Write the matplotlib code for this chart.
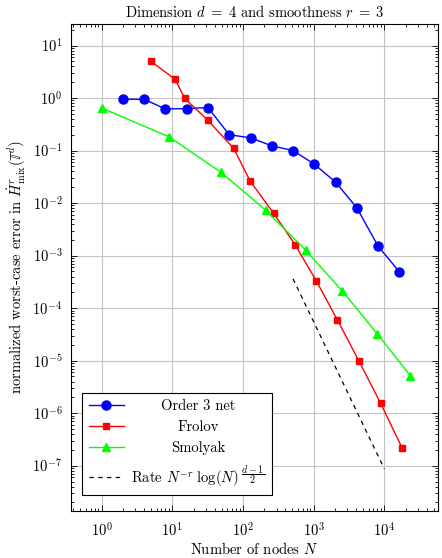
import matplotlib
matplotlib.use("Agg")
import matplotlib.pyplot as plt
import numpy as np

plt.rcParams['font.family'] = ['cmr10', 'DejaVu Serif']
plt.rcParams['mathtext.fontset'] = 'cm'
plt.rcParams['axes.formatter.use_mathtext'] = True
plt.rcParams['font.size'] = 10

# Data
net_N = [2, 4, 8, 16, 32, 64, 128, 256, 512, 1024, 2048, 4096, 8192, 16384]
net_err = [0.95, 0.95, 0.62, 0.63, 0.66, 0.20, 0.175, 0.123, 0.10, 0.055, 0.025, 0.0081, 0.0015, 4.9e-4]

frolov_N = [5, 11, 15, 32, 74, 127, 273, 546, 1095, 2163, 4385, 8890, 17800]
frolov_err = [5.0, 2.27, 0.99, 0.376, 0.11, 0.026, 0.00636, 0.00162, 3.27e-4, 6.0e-5, 9.8e-6, 1.53e-6, 2.2e-7]

smolyak_N = [1, 9, 49, 209, 769, 2561, 7937, 23297]
smolyak_err = [0.645, 0.183, 0.0385, 0.00736, 0.00127, 2.1e-4, 3.25e-5, 5.2e-6]

rate_N = [512, 10000]
rate_err = [3.6e-4, 8.7e-8]

labels = ["Order 3 net", "Frolov", "Smolyak", r"Rate $N^{-r}\;\log(N)\,^{\dfrac{d-1}{2}}$"]

fig = plt.figure(figsize=(4.42, 5.58), dpi=100)
ax = fig.add_axes([70.7/442, 1-510.7/558, (438-70.7)/442, (510.7-24)/558])

ax.plot(net_N, net_err, color=(0, 0, 1), lw=1.0, marker='o', ms=6.5, label=labels[0])
ax.plot(frolov_N, frolov_err, color=(1, 0, 0), lw=1.0, marker='s', ms=5, label=labels[1])
ax.plot(smolyak_N, smolyak_err, color=(0, 1, 0), lw=1.0, marker='^', ms=5.5, label=labels[2])
ax.plot(rate_N, rate_err, color='black', lw=0.9, ls=(0, (3.5, 3.5)), label=labels[3])

ax.set_xscale('log')
ax.set_yscale('log')
ax.set_xlim(0.366, 57500)
ax.set_ylim(1.39e-8, 25.7)

ax.set_xticks([1, 10, 100, 1000, 10000])
ax.set_yticks([10.0**k for k in range(-7, 2)])
ax.xaxis.set_minor_locator(matplotlib.ticker.LogLocator(base=10, subs=np.arange(2, 10), numticks=20))
ax.yaxis.set_minor_locator(matplotlib.ticker.LogLocator(base=10, subs=np.arange(2, 10), numticks=20))
ax.xaxis.set_minor_formatter(matplotlib.ticker.NullFormatter())
ax.yaxis.set_minor_formatter(matplotlib.ticker.NullFormatter())

ax.tick_params(which='both', direction='in', top=True, right=True, width=0.6, colors='black', labelsize=10.5)
ax.tick_params(which='major', length=4, pad=8)
ax.tick_params(which='minor', length=2.5)
ax.tick_params(axis='y', which='major', pad=6)

ax.grid(True, which='major', color='#c4c4c4', lw=0.8)
ax.set_axisbelow(True)
for s in ax.spines.values():
    s.set_linewidth(0.8)

ax.set_title(r"Dimension $d\;=\;4$ and smoothness $r\;=\;3$", fontsize=10.5, pad=5)
ax.set_xlabel(r"Number of nodes $N$", fontsize=10.5)
ax.xaxis.set_label_coords(0.5, (510.7 - 541) / 486.7)
ax.set_ylabel(r"normalized worst-case error in $\dot{H}^{r}_{\mathrm{mix}}(\mathbb{T}^{d})$", fontsize=10.5, labelpad=3)

leg = ax.legend(loc='lower left', bbox_to_anchor=(0.031, 0.032), borderaxespad=0,
                fancybox=False, framealpha=1, edgecolor='black', handlelength=2.4,
                handletextpad=0.5, borderpad=0.45, labelspacing=0.5, fontsize=10.5)
leg.get_frame().set_linewidth(0.8)

fig.canvas.draw()
r = fig.canvas.get_renderer()
texts = leg.get_texts()
ws = [t.get_window_extent(r).width for t in texts]
wmax = max(ws)
for t, w in zip(texts, ws):
    t.set_position(((wmax - w) / 2, 0))

fig.savefig("out.png", dpi=100)
